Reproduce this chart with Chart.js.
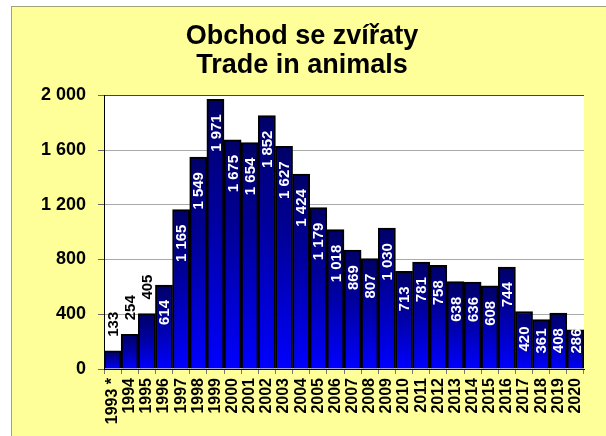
<!DOCTYPE html>
<html>
<head>
<meta charset="utf-8">
<script src="https://cdn.jsdelivr.net/npm/chart.js@4"></script>
<style>
  body { margin: 0; background: #fff; }
  .box {
    position: absolute; left: 11px; top: 6px;
    width: 595px; height: 430px;
    background: #ffff99;
    border-left: 1px solid #a3a37a;
    border-top: 1px solid #a3a37a;
  }
  canvas { display: block; }
</style>
</head>
<body>
<div class="box"><canvas id="chart" width="594" height="429"></canvas></div>
<script>
// Chart data
const years = ['1993 *', '1994', '1995', '1996', '1997', '1998', '1999', '2000', '2001', '2002',
    '2003', '2004', '2005', '2006', '2007', '2008', '2009', '2010', '2011', '2012',
    '2013', '2014', '2015', '2016', '2017', '2018', '2019', '2020'];
const cases = [133, 254, 405, 614, 1165, 1549, 1971, 1675, 1654, 1852,
    1627, 1424, 1179, 1018, 869, 807, 1030, 713, 781, 758,
    638, 636, 608, 744, 420, 361, 408, 286];
const yTicks = [0, 400, 800, 1200, 1600, 2000];
const titleLines = ['Obchod se zvířaty', 'Trade in animals'];

const font = 'Liberation Sans, Arial, sans-serif';

// 1 971 style numbers
const fmt = (v) => String(v).replace(/\B(?=(\d{3})+(?!\d))/g, ' ');

// white plot area
const plotBg = {
    id: 'plotBg',
    beforeDraw(chart) {
        const { ctx, chartArea: a } = chart;
        ctx.save();
        ctx.fillStyle = '#fff';
        ctx.fillRect(a.left, a.top, a.right - a.left, a.bottom - a.top);
        ctx.restore();
    }
};

// rotated value labels
const barLabels = {
    id: 'barLabels',
    afterDatasetsDraw(chart) {
        const ctx = chart.ctx;
        const meta = chart.getDatasetMeta(0);
        ctx.save();
        ctx.font = 'bold 15px ' + font;
        ctx.textBaseline = 'middle';
        meta.data.forEach((bar, i) => {
            const text = fmt(cases[i]);
            const len = ctx.measureText(text).width;
            ctx.save();
            if (i < 3) {
                // first years sit above the bar
                ctx.translate(bar.x, bar.y - 14);
                ctx.rotate(-Math.PI / 2);
                ctx.textAlign = 'left';
                ctx.fillStyle = '#000';
            } else {
                const end = Math.min(bar.y + 15, bar.base - 15 - len);
                ctx.translate(bar.x, end);
                ctx.rotate(-Math.PI / 2);
                ctx.textAlign = 'right';
                ctx.fillStyle = '#fff';
            }
            ctx.fillText(text, 0, 1);
            ctx.restore();
        });
        ctx.restore();
    }
};

const canvas = document.getElementById('chart');

new Chart(canvas, {
    type: 'bar',
    data: {
        labels: years,
        datasets: [{
            data: cases,
            backgroundColor: (c) => {
                const chart = c.chart;
                if (!chart.chartArea || c.type !== 'data') return '#0000cc';
                const y = chart.scales.y;
                const top = y.getPixelForValue(c.raw);
                const base = y.getPixelForValue(0);
                const g = chart.ctx.createLinearGradient(0, top, 0, base);
                g.addColorStop(0, '#000068');
                g.addColorStop(0.4, '#000098');
                g.addColorStop(1, '#0000ff');
                return g;
            },
            borderColor: '#000',
            borderWidth: 2,
            barPercentage: 1,
            categoryPercentage: 1,
        }]
    },
    options: {
        responsive: false,
        animation: false,
        layout: { padding: { left: 8, right: 22, top: 0, bottom: 0 } },
        plugins: {
            legend: { display: false },
            tooltip: { enabled: false },
            title: {
                display: true,
                text: titleLines,
                color: '#000',
                font: { family: font, size: 27, weight: 'bold', lineHeight: 1.08 },
                padding: { top: 15, bottom: 15 },
            },
        },
        scales: {
            x: {
                grid: {
                    display: true,
                    drawOnChartArea: false,
                    tickLength: 5,
                    tickColor: '#777',
                },
                border: { color: '#000', width: 1 },
                ticks: {
                    color: '#000',
                    font: { family: font, size: 16, weight: 'bold' },
                    minRotation: 90,
                    maxRotation: 90,
                    autoSkip: false,
                    padding: 4,
                },
                afterFit: (s) => { s.height = 67; },
            },
            y: {
                min: 0,
                max: 2000,
                afterBuildTicks: (s) => { s.ticks = yTicks.map((v) => ({ value: v })); },
                grid: {
                    color: (c) => (c.tick && c.tick.value === 2000 ? '#444' : '#aaa'),
                    tickLength: 6,
                    tickColor: '#666',
                },
                border: { color: '#000', width: 1 },
                ticks: {
                    color: '#000',
                    font: { family: font, size: 18, weight: 'bold' },
                    padding: 12,
                    callback: (v) => fmt(v),
                },
                afterFit: (s) => { s.width = 84; },
            },
        },
    },
    plugins: [plotBg, barLabels],
});
</script>
</body>
</html>
